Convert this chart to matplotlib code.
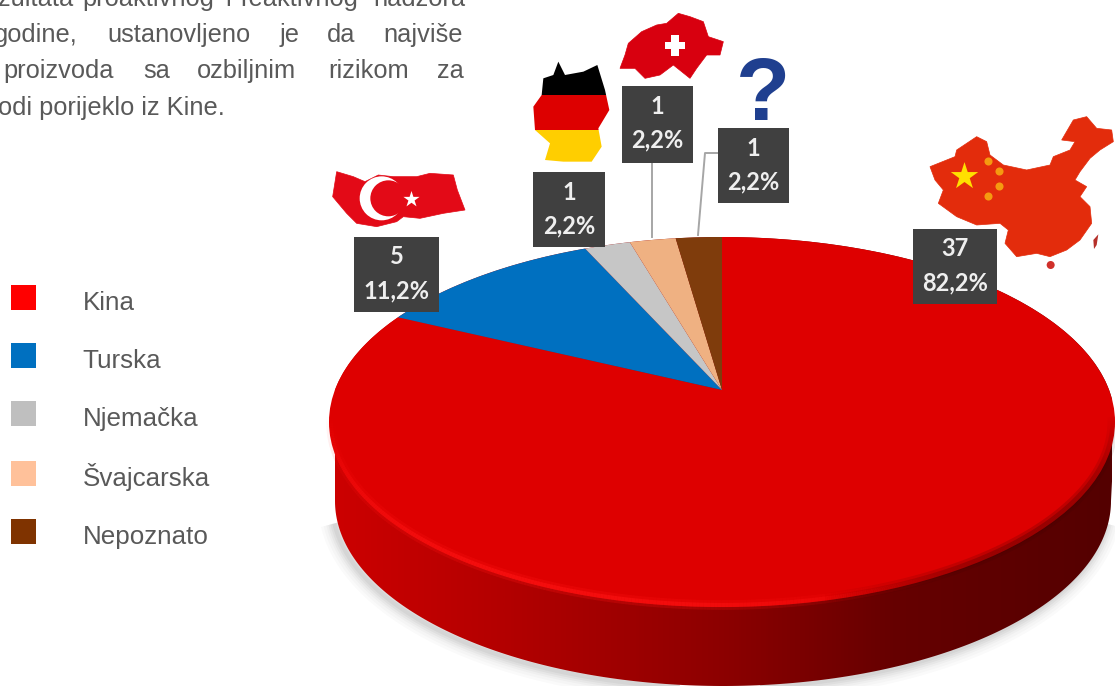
import numpy as np
import matplotlib
matplotlib.use("Agg")
import matplotlib.pyplot as plt
from matplotlib.patches import Ellipse, Polygon, Rectangle, Circle, Patch
from matplotlib.collections import LineCollection
from matplotlib.colors import LinearSegmentedColormap

categories = ["Kina", "Turska", "Njemačka", "Švajcarska", "Nepoznato"]
values = [37, 5, 1, 1, 1]
percent_labels = ["82,2%", "11,2%", "2,2%", "2,2%", "2,2%"]
slice_colors = ["#DE0000", "#0070C0", "#C6C6C6", "#EFB182", "#7F3C0C"]
legend_colors = ["#FF0000", "#0070C0", "#BFBFBF", "#FFC19A", "#7F3300"]

W, H = 1115, 686
TXT = "#595959"
plt.rcParams["font.family"] = ["Liberation Sans", "DejaVu Sans"]
fig = plt.figure(figsize=(W / 100, H / 100), dpi=100, facecolor="white")


def px_axes(z):
    a = fig.add_axes([0, 0, 1, 1], zorder=z)
    a.set_xlim(0, W)
    a.set_ylim(H, 0)
    a.axis("off")
    a.patch.set_alpha(0)
    return a


back = px_axes(1)
front = px_axes(3)

# geometry of the disc (pixels)
cx, cy, rx, ry = 722, 422, 393, 185
bx, by, brx, bry = 723, 501, 388, 185
apex_x, apex_y, squash = 722, 390, 0.46

t = np.linspace(np.pi, 0, 200)
upper = np.c_[cx + rx * np.cos(t), cy - ry * np.sin(t)]
t2 = np.linspace(0, -np.pi, 200)
lower = np.c_[bx + brx * np.cos(t2), by - bry * np.sin(t2)]
side_poly = np.vstack([upper, lower])

# soft shadow along the lower edge only
low = lower[lower[:, 1] > 520]
for lw, al in zip([20, 16, 12, 9, 6, 3], [0.018, 0.02, 0.025, 0.03, 0.035, 0.04]):
    back.plot(low[:, 0] - 3, low[:, 1] + 2, color="black", lw=lw, alpha=al,
              solid_capstyle="butt")
back.set_xlim(0, W)
back.set_ylim(H, 0)

# side with gradient
stops = [(0.0, (0.80, 0, 0)), (0.22, (0.70, 0, 0)), (0.5, (0.55, 0, 0)),
         (0.72, (0.40, 0, 0)), (1.0, (0.33, 0, 0))]
cmap = LinearSegmentedColormap.from_list("side", stops)
grad = np.linspace(0, 1, 400)[None, :]
im = back.imshow(grad, cmap=cmap, extent=[335, 1112, H, 230], aspect="auto", zorder=3)
back.set_xlim(0, W)
back.set_ylim(H, 0)
clip = Polygon(side_poly, closed=True, transform=back.transData, fc="none", ec="none")
back.add_patch(clip)
im.set_clip_path(clip)

# pie top face: pie drawn from the apex, clipped to the perspective ellipse
pie_ax = fig.add_axes([0, 0, 1, 1], zorder=2)
wedges, _ = pie_ax.pie(values, colors=slice_colors, startangle=90, counterclock=False,
                       radius=1500, center=(0, 0), wedgeprops={"linewidth": 0})
pie_ax.set_aspect("auto")
pie_ax.set_xlim(-apex_x, W - apex_x)
pie_ax.set_ylim((apex_y - H) / squash, apex_y / squash)
pie_ax.axis("off")
pie_ax.patch.set_alpha(0)
face = Ellipse((cx, cy), 2 * rx, 2 * ry, transform=back.transData, fc="none", ec="none")
for w in wedges:
    w.set_clip_on(True)
    w.set_clip_path(face)


def rim(start, end, rgb, layers, inset):
    a = np.linspace(np.radians(start), np.radians(end), 240)
    xr = cx + (rx - inset) * np.cos(a)
    yr = cy - (ry - inset) * np.sin(a)
    pts = np.c_[xr, yr].reshape(-1, 1, 2)
    segs = np.concatenate([pts[:-1], pts[1:]], axis=1)
    u = np.linspace(0, 1, len(segs))
    fade = np.sin(np.pi * u) ** 0.8
    for lw, al in layers:
        cols = np.zeros((len(segs), 4))
        cols[:, :3] = rgb
        cols[:, 3] = al * fade
        front.add_collection(LineCollection(segs, colors=cols, linewidths=lw, zorder=1))


# rim light along the front left edge, soft dark on the front right edge
rim(178, 305, (1.0, 0.08, 0.08), [(7, 0.25), (3, 0.6)], 2)
rim(285, 362, (0.25, 0.0, 0.0), [(8, 0.2), (4, 0.3)], 2)

# leader lines
front.plot([652, 652], [163, 237], color="#A6A6A6", lw=1.4, zorder=2)
front.plot([720, 705, 698], [153, 153, 235], color="#A6A6A6", lw=1.4, zorder=2)

# value labels
boxes = {
    "Kina": (913, 229, 997, 304),
    "Turska": (354, 237, 439, 312),
    "Njemačka": (533, 172, 605, 247),
    "Švajcarska": (622, 86, 693, 163),
    "Nepoznato": (718, 128, 789, 203),
}
for cat, v, p in zip(categories, values, percent_labels):
    x0, y0, x1, y1 = boxes[cat]
    front.add_patch(Rectangle((x0, y0), x1 - x0, y1 - y0, fc="#404040", ec="none", zorder=4))
    xm = (x0 + x1) / 2
    front.text(xm, y0 + 20, str(v), color="#EFEFEF", family="Lato", weight="bold",
               fontsize=17, ha="center", va="center", zorder=5)
    front.text(xm, y0 + 54, p, color="#EFEFEF", family="Lato", weight="bold",
               fontsize=17, ha="center", va="center", zorder=5)


# decorative country shapes
def z2(pts):
    return [(320 + x / 3, y / 3) for x, y in pts]


def z3(pts):
    return [(880 + x / 3, 100 + y / 3) for x, y in pts]


china = z3([(150, 200), (225, 170), (230, 150), (290, 110), (320, 125), (330, 165), (370, 195),
            (440, 210), (510, 195), (520, 170), (570, 150), (585, 125), (545, 120), (580, 60),
            (620, 50), (650, 85), (695, 90), (700, 125), (660, 150), (630, 175), (600, 215),
            (585, 240), (620, 260), (600, 290), (630, 320), (635, 370), (600, 420), (560, 450),
            (510, 470), (470, 460), (410, 470), (375, 430), (385, 390), (360, 370), (290, 375),
            (230, 350), (175, 310), (190, 270), (165, 240)])
front.add_patch(Polygon(china, fc="#E32C0C", ec="#E32C0C", lw=0.5, zorder=2))
front.add_patch(Polygon(z3([(640, 420), (655, 403), (650, 435), (642, 447)]), fc="#B5302A", ec="none", zorder=2))
front.add_patch(Circle((880 + 512 / 3, 100 + 495 / 3), 4, fc="#D0302A", ec="none", zorder=2))
front.scatter([880 + 253 / 3], [100 + 227 / 3], marker="*", s=430, c="#FFE000", linewidths=0, zorder=3)
front.scatter([880 + x / 3 for x in (325, 357, 357, 325)],
              [100 + y / 3 for y in (182, 212, 258, 288)],
              marker="o", s=34, c="#F59A10", linewidths=0, zorder=3)

turkey = z2([(38, 590), (50, 515), (100, 530), (135, 545), (175, 525), (220, 530), (290, 530),
             (330, 520), (400, 525), (412, 570), (435, 630), (370, 640), (300, 655), (250, 650),
             (230, 665), (170, 680), (110, 670), (80, 640)])
front.add_patch(Polygon(turkey, fc="#E30A17", ec="#E30A17", lw=0.5, zorder=2))
front.add_patch(Circle((320 + 185 / 3, 595 / 3), 22, fc="white", ec="none", zorder=3))
front.add_patch(Circle((320 + 205 / 3, 595 / 3), 18, fc="#E30A17", ec="none", zorder=3))
front.scatter([320 + 272 / 3], [597 / 3], marker="*", s=150, c="white", linewidths=0, zorder=4)

germany = z2([(715, 185), (735, 225), (790, 215), (832, 195), (855, 270), (868, 330), (835, 385),
              (845, 440), (815, 485), (730, 485), (675, 480), (690, 430), (645, 390), (640, 320),
              (665, 285), (670, 235), (700, 225)])
gclip = Polygon(germany, transform=front.transData, fc="none", ec="none")
front.add_patch(gclip)
for (ya, yb), c in zip([(55, 95), (95, 130), (130, 170)], ["#000000", "#DD0000", "#FFCE00"]):
    r = Rectangle((525, ya), 100, yb - ya, fc=c, ec="none", zorder=2)
    front.add_patch(r)
    r.set_clip_path(gclip)

swiss = z2([(900, 205), (915, 165), (925, 130), (965, 95), (1010, 75), (1040, 70), (1075, 40),
            (1110, 50), (1150, 65), (1165, 110), (1210, 125), (1200, 165), (1160, 165),
            (1130, 205), (1110, 235), (1060, 195), (1020, 225), (975, 235), (945, 205)])
front.add_patch(Polygon(swiss, fc="#D8000F", ec="#D8000F", lw=0.5, zorder=2))
front.add_patch(Rectangle((320 + 1035 / 3, 125 / 3), 60 / 3, 22 / 3, fc="white", ec="none", zorder=3))
front.add_patch(Rectangle((320 + 1054 / 3, 105 / 3), 22 / 3, 62 / 3, fc="white", ec="none", zorder=3))

front.text(763, 120, "?", color="#1F3F8F", fontsize=64, weight="bold", ha="center", va="baseline", zorder=3)

# body text, justified word by word and cut off by the image edge
FS = 18.3
words = [
    (82, 6, "proaktivnog"), (225, 6, "i"), (240, 6, "reaktivnog"), (373, 6, "nadzora"),
    (-6, 42, "godine,"), (107, 42, "ustanovljeno"), (280, 42, "je"), (327, 42, "da"), (383, 42, "najviše"),
    (3, 78, "proizvoda"), (143, 78, "sa"), (197, 78, "ozbiljnim"), (328, 78, "rizikom"), (437, 78, "za"),
    (-2, 115, "odi porijeklo iz Kine."),
]
for x, y, s in words:
    front.text(x, y, s, color=TXT, fontsize=FS, ha="left", va="baseline", clip_on=False)
front.text(73, 6, "zultata", color=TXT, fontsize=FS, ha="right", va="baseline", clip_on=False)

# legend
handles = [Patch(fc=c, ec="none") for c in legend_colors]
leg = front.legend(handles, categories, loc="upper left", bbox_to_anchor=(11, 289),
                   bbox_transform=front.transData, frameon=False, fontsize=18.7,
                   handlelength=0.96, handleheight=1.10, handletextpad=1.8,
                   labelspacing=1.22, borderpad=0, borderaxespad=0, labelcolor=TXT)
for h in leg.legend_handles:
    h.set_y(h.get_y() + 2.7)

fig.savefig("out.png", dpi=100, facecolor="white")
